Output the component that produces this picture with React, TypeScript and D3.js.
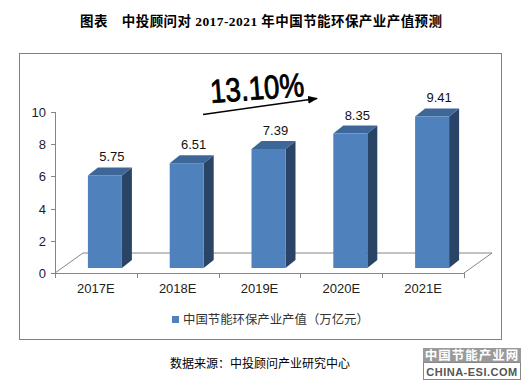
import React from "react";
import * as d3 from "d3";

const categories = ["2017E", "2018E", "2019E", "2020E", "2021E"];
const values = [5.75, 6.51, 7.39, 8.35, 9.41];
const yTicks = [0, 2, 4, 6, 8, 10];
const seriesName = "中国节能环保产业产值（万亿元）";
const title = "图表　中投顾问对 2017-2021 年中国节能环保产业产值预测";
const sourceText = "数据来源：中投顾问产业研究中心";
const growthLabel = "13.10%";

export default function App() {
  const W = 521, H = 381;
  const x = d3.scaleBand().domain(categories).range([55, 464]);
  const y = d3.scaleLinear().domain([0, 10]).range([273, 112]);
  const floorDx = 28, floorDy = -20;
  const barOffX = 9, barOffY = -5;
  const barW = 34;
  const depthX = 10, depthY = -8;
  const front = "#4F81BD", top = "#3C6798", side = "#2A4468";
  const axisCol = "#868686";
  const sans = "'Liberation Sans', Arial, sans-serif";
  const cjk = "'Noto Sans CJK SC', sans-serif";

  const boundaries = d3.range(categories.length + 1).map((i) => 55 + i * x.bandwidth());

  return (
    <svg width={W} height={H} style={{ position: "absolute", left: 0, top: 0, background: "#fff" }}>
      <rect x={0} y={0} width={W} height={H} fill="#fff" />
      <text x={80} y={26} fontFamily="'Liberation Serif', 'Noto Sans CJK SC', serif" fontWeight="bold" fontSize={13.5} fill="#000" textLength={362} lengthAdjust="spacing">
        {title}
      </text>
      <rect x={19.5} y={53.5} width={482} height={286} fill="none" stroke="#808080" strokeWidth={1} />

      {/* floor */}
      <line x1={55} y1={273} x2={55 + floorDx} y2={273 + floorDy} stroke={axisCol} />
      <line x1={55 + floorDx} y1={273 + floorDy} x2={464 + floorDx} y2={273 + floorDy} stroke={axisCol} />
      <line x1={464} y1={273} x2={464 + floorDx} y2={273 + floorDy} stroke={axisCol} />

      {/* y axis */}
      <line x1={55.5} y1={y(10)} x2={55.5} y2={y(0)} stroke={axisCol} />
      {yTicks.map((t) => (
        <g key={t}>
          <line x1={51} x2={55} y1={Math.round(y(t)) + 0.5} y2={Math.round(y(t)) + 0.5} stroke={axisCol} />
          <text x={46} y={y(t) + 5} textAnchor="end" fontFamily={sans} fontSize={13} fill="#1f1a33">{t}</text>
        </g>
      ))}

      {/* x axis */}
      <line x1={55} y1={273.5} x2={464} y2={273.5} stroke={axisCol} />
      {boundaries.map((b, i) => (
        <line key={i} x1={Math.round(b) + 0.5} x2={Math.round(b) + 0.5} y1={273} y2={278} stroke={axisCol} />
      ))}
      {categories.map((c) => (
        <text key={c} x={(x(c) as number) + x.bandwidth() / 2} y={293} textAnchor="middle" fontFamily={sans} fontSize={13} fill="#222">{c}</text>
      ))}

      {/* bars */}
      {categories.map((c, i) => {
        const cx = (x(c) as number) + x.bandwidth() / 2 + barOffX;
        const x0 = cx - barW / 2, x1 = cx + barW / 2;
        const yb = y(0) + barOffY;
        const yt = y(values[i]) + barOffY;
        const topPts = `${x0},${yt} ${x1},${yt} ${x1 + depthX},${yt + depthY} ${x0 + depthX},${yt + depthY}`;
        const sidePts = `${x1},${yt} ${x1 + depthX},${yt + depthY} ${x1 + depthX},${yb + depthY} ${x1},${yb}`;
        return (
          <g key={c}>
            <polygon points={sidePts} fill={side} />
            <polygon points={topPts} fill={top} />
            <rect x={x0} y={yt} width={barW} height={yb - yt} fill={front} />
            <text x={cx + depthX / 2 + 2} y={yt + depthY - 6} textAnchor="middle" fontFamily={sans} fontSize={13} fill="#111">{values[i].toFixed(2)}</text>
          </g>
        );
      })}

      {/* growth annotation */}
      <defs>
        <marker id="arr" markerWidth={10} markerHeight={8} refX={9} refY={4} orient="auto" markerUnits="userSpaceOnUse">
          <path d="M0,0 L10,4 L0,8 Z" fill="#000" />
        </marker>
      </defs>
      <line x1={203} y1={114.5} x2={317} y2={98.5} stroke="#000" strokeWidth={1.5} markerEnd="url(#arr)" />
      <text transform="translate(211,103) rotate(-4.3)" fontFamily={sans} fontSize={33} fill="#000" stroke="#000" strokeWidth={0.9} textLength={94} lengthAdjust="spacingAndGlyphs">{growthLabel}</text>

      {/* legend */}
      <rect x={172} y={316} width={7} height={7} fill={front} />
      <text x={183} y={324} fontFamily={cjk} fontSize={12.4} fill="#333">{seriesName}</text>

      {/* source */}
      <text x={170} y={368} fontFamily={cjk} fontSize={12} fill="#000">{sourceText}</text>

      {/* watermark */}
      <rect x={423} y={348} width={98} height={14} fill="#9a9a9a" />
      <text x={472} y={360} textAnchor="middle" fontFamily={cjk} fontWeight="bold" fontSize={12.5} fill="#fff" letterSpacing={1}>中国节能产业网</text>
      <rect x={423.5} y={362.5} width={97} height={17} fill="#fff" stroke="#888" />
      <text x={472} y={375.5} textAnchor="middle" fontFamily={sans} fontWeight="bold" fontSize={11} fill="#555" letterSpacing={0.5}>CHINA-ESI.COM</text>
    </svg>
  );
}
